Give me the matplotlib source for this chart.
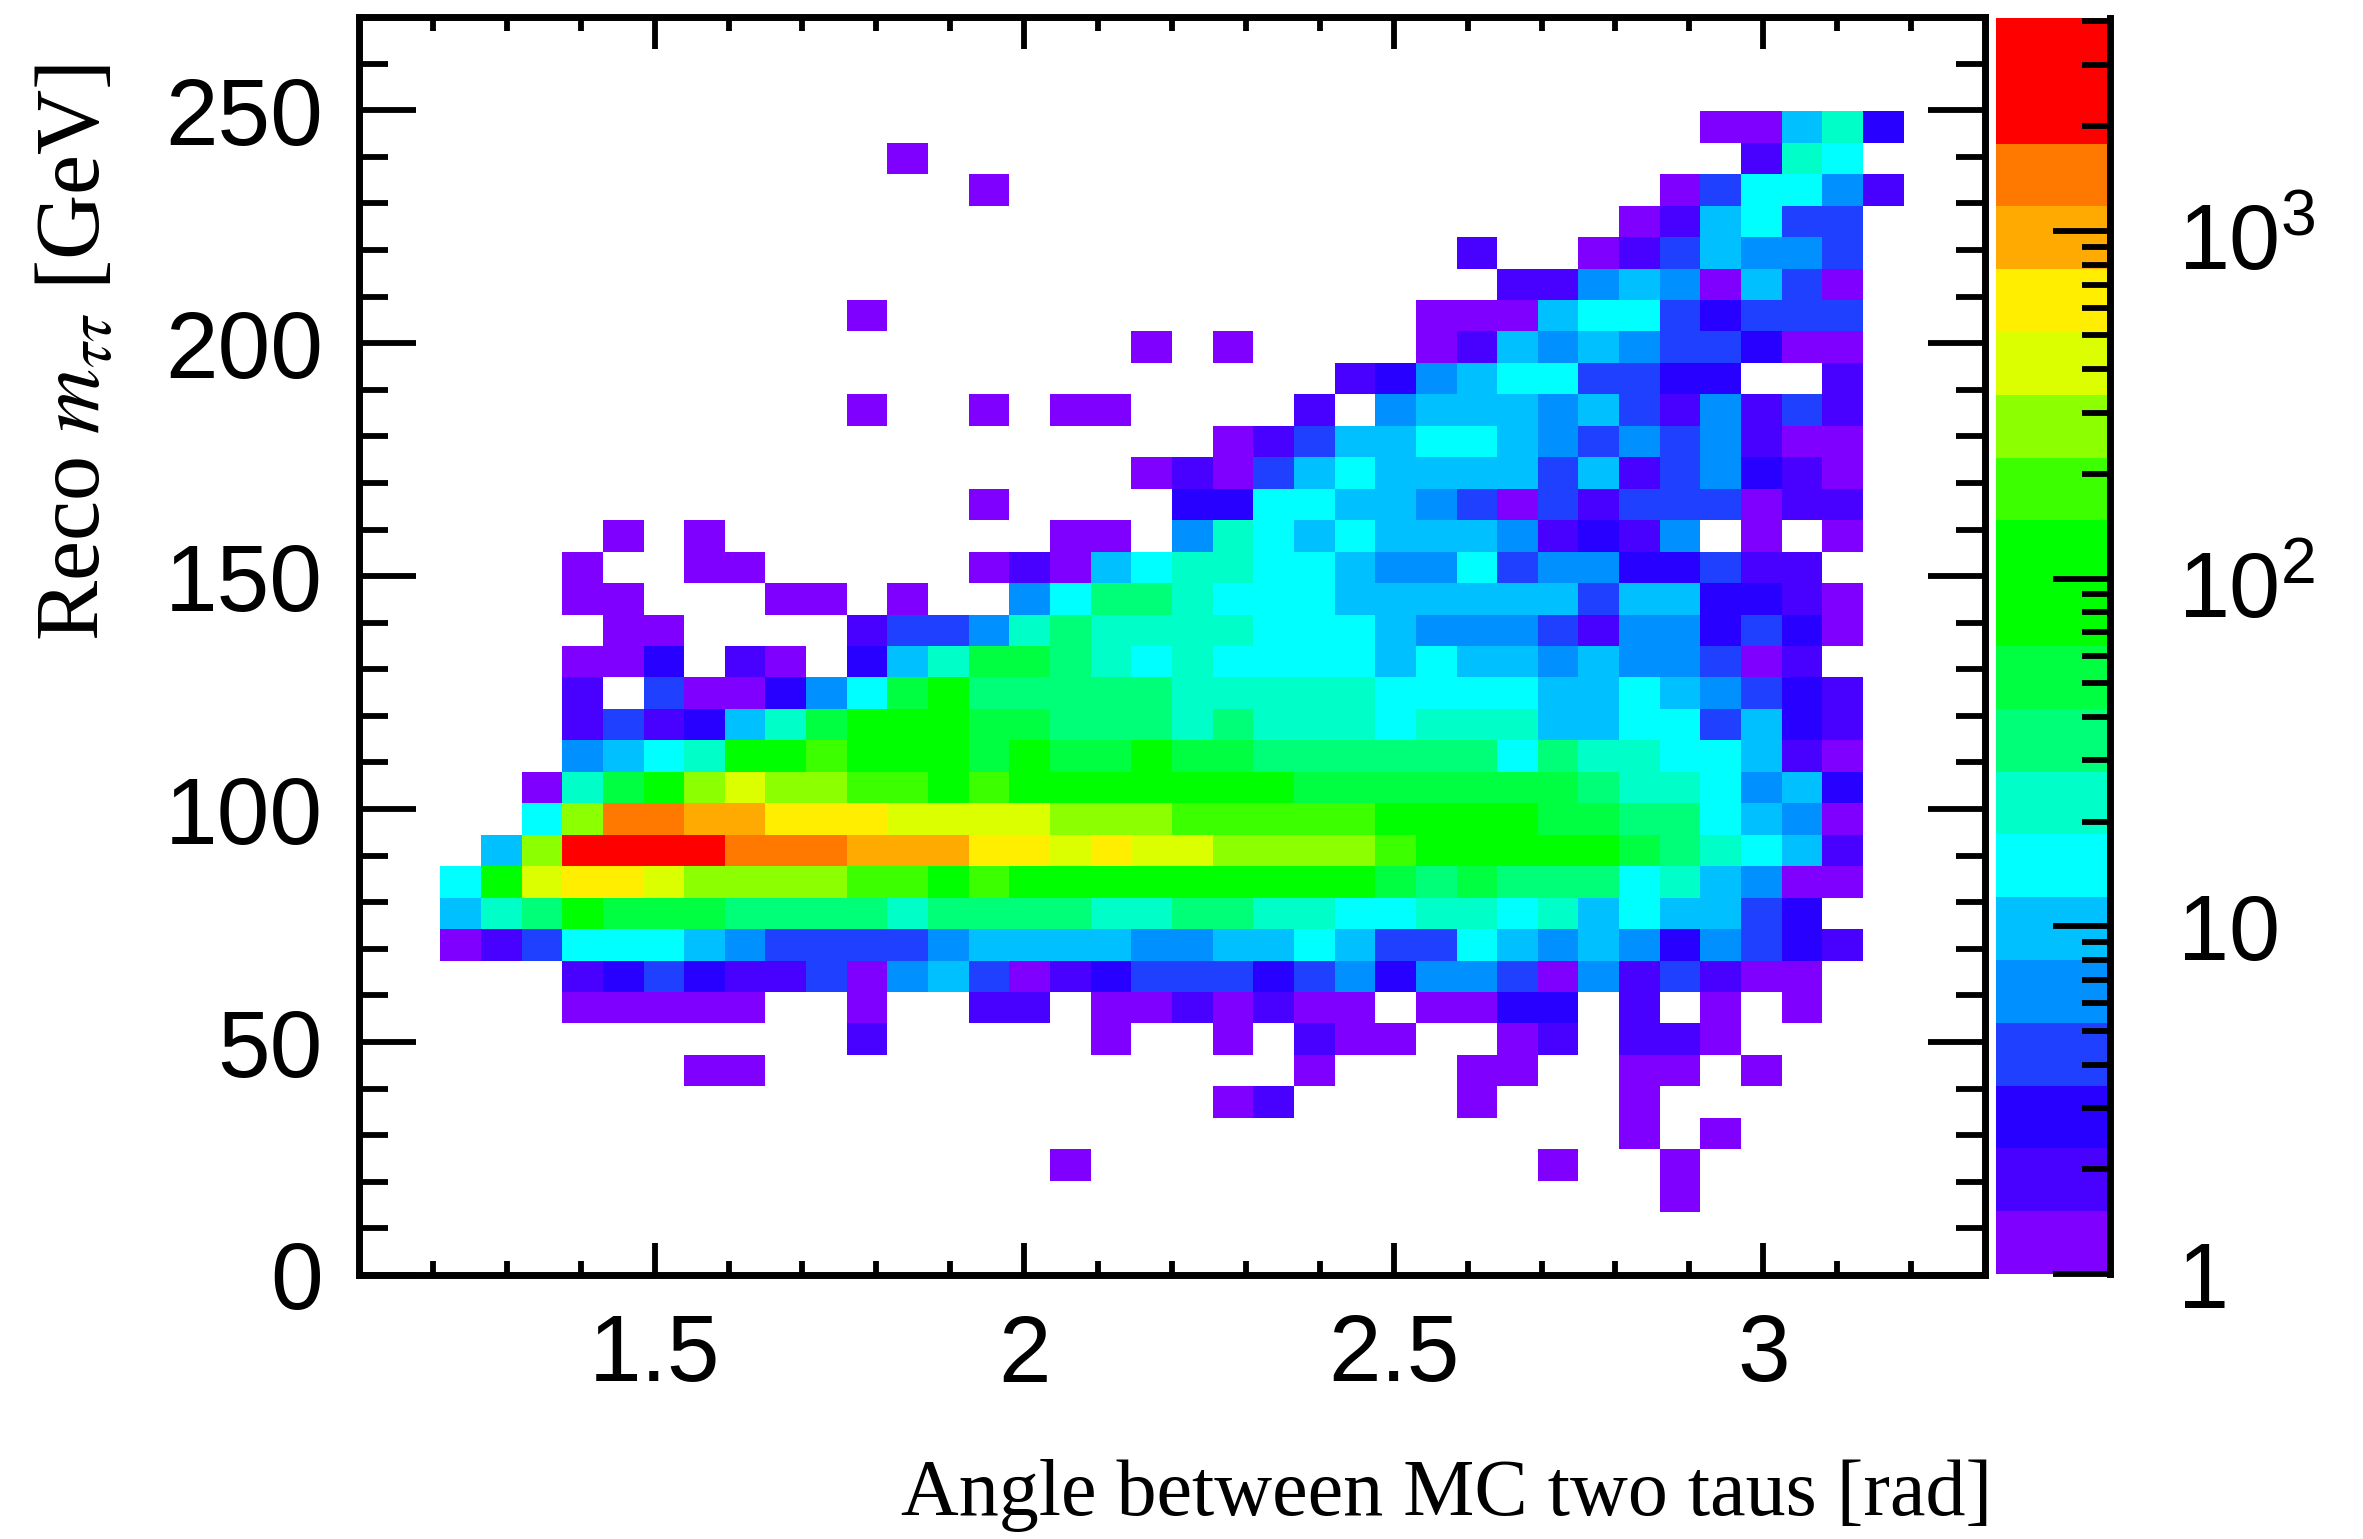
import numpy as np
import matplotlib
matplotlib.use("Agg")
import matplotlib.pyplot as plt
from matplotlib.colors import ListedColormap, LogNorm
from matplotlib.ticker import FixedLocator, NullFormatter
from matplotlib.transforms import ScaledTranslation

# Estimated bin counts. One list per mass row, each covers angle bins 2..37
# grouped as: bins 2-9 | 10-19 | 20-29 | 30-37.  Row number = mass bin index.
r02 = [0,0,0,0,0,0,0,0,  0,0,0,0,0,0,0,0,0,0,  0,0,0,0,0,0,0,0,0,0,  0,0,1,0,0,0,0,0]
r03 = [0,0,0,0,0,0,0,0,  0,0,0,0,0,0,0,1,0,0,  0,0,0,0,0,0,0,0,0,1,  0,0,1,0,0,0,0,0]
r04 = [0,0,0,0,0,0,0,0,  0,0,0,0,0,0,0,0,0,0,  0,0,0,0,0,0,0,0,0,0,  0,1,0,1,0,0,0,0]
r05 = [0,0,0,0,0,0,0,0,  0,0,0,0,0,0,0,0,0,0,  0,1,2,0,0,0,0,1,0,0,  0,1,0,0,0,0,0,0]
r06 = [0,0,0,0,0,0,1,1,  0,0,0,0,0,0,0,0,0,0,  0,0,0,1,0,0,0,1,1,0,  0,1,1,0,1,0,0,0]
r07 = [0,0,0,0,0,0,0,0,  0,0,2,0,0,0,0,0,1,0,  0,1,0,2,1,1,0,0,1,2,  0,2,2,1,0,0,0,0]
r08 = [0,0,0,1,1,1,1,1,  0,0,1,0,0,2,2,0,1,1,  2,1,2,1,1,0,1,1,3,3,  0,2,0,1,0,1,0,0]
r09 = [0,0,0,2,3,4,3,2,  2,4,1,6,9,4,1,2,3,4,  4,4,3,4,6,3,6,6,4,1,  6,2,4,2,1,1,0,0]
r10 = [1,2,4,14,14,14,9,6,  4,4,4,4,6,9,9,9,9,6,  6,9,9,14,9,4,4,14,9,6,  9,6,3,6,4,3,2,0]
r11 = [9,21,32,74,49,49,49,32,  32,32,32,21,32,32,32,32,21,21,  32,32,21,21,14,14,21,21,14,21,  9,14,9,9,4,3,0,0]
r12 = [14,74,380,580,580,380,250,250,  250,250,170,170,74,170,74,74,74,74,  74,74,74,74,74,49,32,49,32,32,  32,14,21,9,6,1,1,0]
r13 = [0,9,250,2500,2500,2500,2500,1300,  1300,1300,870,870,870,580,580,380,580,380,  380,250,250,250,250,170,74,74,74,74,  74,49,32,21,14,9,2,0]
r14 = [0,0,14,250,1300,1300,870,870,  580,580,580,380,380,380,380,250,250,250,  170,170,170,170,170,74,74,74,74,49,  49,32,32,14,9,6,1,0]
r15 = [0,0,1,21,49,74,250,380,  250,250,170,170,74,170,74,74,74,74,  74,74,74,49,49,49,49,49,49,49,  32,21,21,14,6,9,3,0]
r16 = [0,0,0,6,9,14,21,74,  74,170,74,74,74,49,74,49,49,74,  49,49,32,32,32,32,32,32,14,32,  21,21,14,14,9,2,1,0]
r17 = [0,0,0,2,4,2,3,9,  21,49,74,74,74,49,49,32,32,32,  21,32,21,21,21,14,21,21,21,9,  9,14,14,4,9,3,2,0]
r18 = [0,0,0,2,0,4,1,1,  3,6,14,49,74,32,32,32,32,32,  21,21,21,21,21,14,14,14,14,9,  9,14,9,6,4,3,2,0]
r19 = [0,0,0,1,1,3,0,2,  1,0,3,9,21,49,49,32,21,14,  21,14,14,14,14,9,14,9,9,6,  9,6,6,4,1,2,0,0]
r20 = [0,0,0,0,1,1,0,0,  0,0,2,4,4,6,21,32,21,21,  21,21,14,14,14,9,6,6,6,4,  2,6,6,3,4,3,1,0]
r21 = [0,0,0,1,1,0,0,0,  1,1,0,1,0,0,6,14,32,32,  21,14,14,14,9,9,9,9,9,9,  4,9,9,3,3,2,1,0]
r22 = [0,0,0,1,0,0,1,1,  0,0,0,0,0,1,2,1,9,14,  21,21,14,14,9,6,6,14,4,6,  6,3,3,4,2,2,0,0]
r23 = [0,0,0,0,1,0,1,0,  0,0,0,0,0,0,0,1,1,0,  6,21,14,9,14,9,9,9,6,2,  3,2,6,0,1,0,1,0]
r24 = [0,0,0,0,0,0,0,0,  0,0,0,0,0,1,0,0,0,0,  3,3,14,14,9,9,6,4,1,4,  2,4,4,4,1,2,2,0]
r25 = [0,0,0,0,0,0,0,0,  0,0,0,0,0,0,0,0,0,1,  2,1,4,9,14,9,9,9,9,4,  9,2,4,6,3,2,1,0]
r26 = [0,0,0,0,0,0,0,0,  0,0,0,0,0,0,0,0,0,0,  0,1,2,4,9,9,14,14,9,6,  4,6,4,6,2,1,1,0]
r27 = [0,0,0,0,0,0,0,0,  0,0,1,0,0,1,0,1,1,0,  0,0,0,2,0,6,9,9,9,6,  9,4,2,6,2,4,2,0]
r28 = [0,0,0,0,0,0,0,0,  0,0,0,0,0,0,0,0,0,0,  0,0,0,0,2,3,6,9,14,14,  4,4,3,3,0,0,2,0]
r29 = [0,0,0,0,0,0,0,0,  0,0,0,0,0,0,0,0,0,1,  0,1,0,0,0,0,1,2,9,6,  9,6,4,4,3,1,1,0]
r30 = [0,0,0,0,0,0,0,0,  0,0,1,0,0,0,0,0,0,0,  0,0,0,0,0,0,1,1,1,9,  14,14,4,3,4,4,4,0]
r31 = [0,0,0,0,0,0,0,0,  0,0,0,0,0,0,0,0,0,0,  0,0,0,0,0,0,0,0,2,2,  6,9,6,1,9,4,1,0]
r32 = [0,0,0,0,0,0,0,0,  0,0,0,0,0,0,0,0,0,0,  0,0,0,0,0,0,0,2,0,0,  1,2,4,9,6,6,4,0]
r33 = [0,0,0,0,0,0,0,0,  0,0,0,0,0,0,0,0,0,0,  0,0,0,0,0,0,0,0,0,0,  0,1,2,9,14,4,4,0]
r34 = [0,0,0,0,0,0,0,0,  0,0,0,0,0,1,0,0,0,0,  0,0,0,0,0,0,0,0,0,0,  0,0,1,4,14,14,6,2]
r35 = [0,0,0,0,0,0,0,0,  0,0,0,1,0,0,0,0,0,0,  0,0,0,0,0,0,0,0,0,0,  0,0,0,0,2,21,14,0]
r36 = [0,0,0,0,0,0,0,0,  0,0,0,0,0,0,0,0,0,0,  0,0,0,0,0,0,0,0,0,0,  0,0,0,1,1,9,21,3]

palette = ["#7f00ff", "#4800ff", "#2800ff", "#2040ff", "#0090ff",
           "#00c0ff", "#00ffff", "#00ffc8", "#00ff78", "#00ff40",
           "#00ff00", "#00ff00", "#3cff00", "#8cff00", "#dcff00",
           "#ffee00", "#ffaa00", "#ff7800", "#ff0000", "#ff0000"]

x_major = [1.5, 2.0, 2.5, 3.0]
x_major_labels = ["1.5", "2", "2.5", "3"]
y_major = [0, 50, 100, 150, 200, 250]
cbar_ticks = [1, 10, 100, 1000]
cbar_labels = ["1", "10", r"$\mathregular{10^{2}}$", r"$\mathregular{10^{3}}$"]
x_label = "Angle between MC two taus [rad]"
y_label = r"Reco $m_{\tau\tau}$ [GeV]"

X_MIN, X_MAX, Y_MIN, Y_MAX = 1.1, 3.3, 0.0, 270.0
N_BINS = 40
Z_MAX = 10 ** 3.612

W, H = 2363, 1539
plt.rcParams["mathtext.fontset"] = "stix"
fig = plt.figure(figsize=(W / 100, H / 100), dpi=100, facecolor="white")


def px_axes(x0, y0, x1, y1):
    return fig.add_axes([x0 / W, 1 - y1 / H, (x1 - x0) / W, (y1 - y0) / H])


ax = px_axes(359, 17, 1985, 1275)

data_rows = [r02, r03, r04, r05, r06, r07, r08, r09, r10, r11, r12, r13, r14,
             r15, r16, r17, r18, r19, r20, r21, r22, r23, r24, r25, r26, r27,
             r28, r29, r30, r31, r32, r33, r34, r35, r36]
grid = np.zeros((N_BINS, N_BINS))
grid[2:2 + len(data_rows), 2:38] = np.array(data_rows, dtype=float)
masked = np.ma.masked_where(grid <= 0, grid)

x_edges = np.linspace(X_MIN, X_MAX, N_BINS + 1)
y_edges = np.linspace(Y_MIN, Y_MAX, N_BINS + 1)
cmap = ListedColormap(palette)
cmap.set_bad("white")
norm = LogNorm(vmin=1, vmax=Z_MAX)
mesh = ax.pcolormesh(x_edges, y_edges, masked, cmap=cmap, norm=norm,
                     edgecolors="none", antialiased=False, zorder=1)
ax.set_xlim(X_MIN, X_MAX)
ax.set_ylim(Y_MIN, Y_MAX)

for s in ax.spines.values():
    s.set_linewidth(5)
    s.set_zorder(5)

sans = "Liberation Sans"
ax.xaxis.set_major_locator(FixedLocator(x_major))
ax.set_xticklabels(x_major_labels)
ax.xaxis.set_minor_locator(FixedLocator(np.arange(1.2, 3.3, 0.1)))
ax.yaxis.set_major_locator(FixedLocator(y_major))
ax.yaxis.set_minor_locator(FixedLocator(np.arange(10, 270, 10)))
ax.xaxis.set_minor_formatter(NullFormatter())
ax.yaxis.set_minor_formatter(NullFormatter())
ax.tick_params(axis="x", which="major", direction="in", top=True, bottom=True,
               length=23, width=4.2, pad=27, labelsize=68)
ax.tick_params(axis="x", which="minor", direction="in", top=True, bottom=True,
               length=10, width=4.2)
ax.tick_params(axis="y", which="major", direction="in", left=True, right=True,
               length=41, width=4.2, pad=26, labelsize=68)
ax.tick_params(axis="y", which="minor", direction="in", left=True, right=True,
               length=21, width=4.2)
for lab in ax.get_xticklabels() + ax.get_yticklabels():
    lab.set_fontfamily(sans)

cax = px_axes(1996, 18, 2110, 1274)
cb = fig.colorbar(mesh, cax=cax)
cb.outline.set_visible(False)
cb.solids.set_antialiased(False)
cb.set_ticks(cbar_ticks)
cb.set_ticklabels(cbar_labels)
cax.yaxis.set_minor_locator(FixedLocator(
    [m * 10 ** e for e in range(4) for m in range(2, 10) if m * 10 ** e < Z_MAX]))
cax.yaxis.set_minor_formatter(NullFormatter())
cax.tick_params(axis="y", which="major", direction="in", right=True, left=False,
                length=41, width=4.2, pad=49, labelsize=66)
cax.tick_params(axis="y", which="minor", direction="in", right=True, left=False,
                length=20, width=4.2)
for lab in cax.get_yticklabels():
    lab.set_fontfamily(sans)
    if "10^" in lab.get_text():
        lab.set_transform(lab.get_transform() +
                          ScaledTranslation(0, -6 / 100, fig.dpi_scale_trans))
for name, s in cax.spines.items():
    s.set_visible(name == "right")
    if name == "right":
        s.set_linewidth(5)
        s.set_zorder(5)

serif = "Liberation Serif"
fig.text(1992 / W, 1 - 1515 / H, x_label, family=serif, fontsize=57.6,
         ha="right", va="baseline")
fig.text(100 / W, 1 - 352 / H, y_label, family=serif, fontsize=65,
         rotation=90, ha="center", va="baseline", rotation_mode="anchor")

fig.savefig("out.png", dpi=100, facecolor="white")
